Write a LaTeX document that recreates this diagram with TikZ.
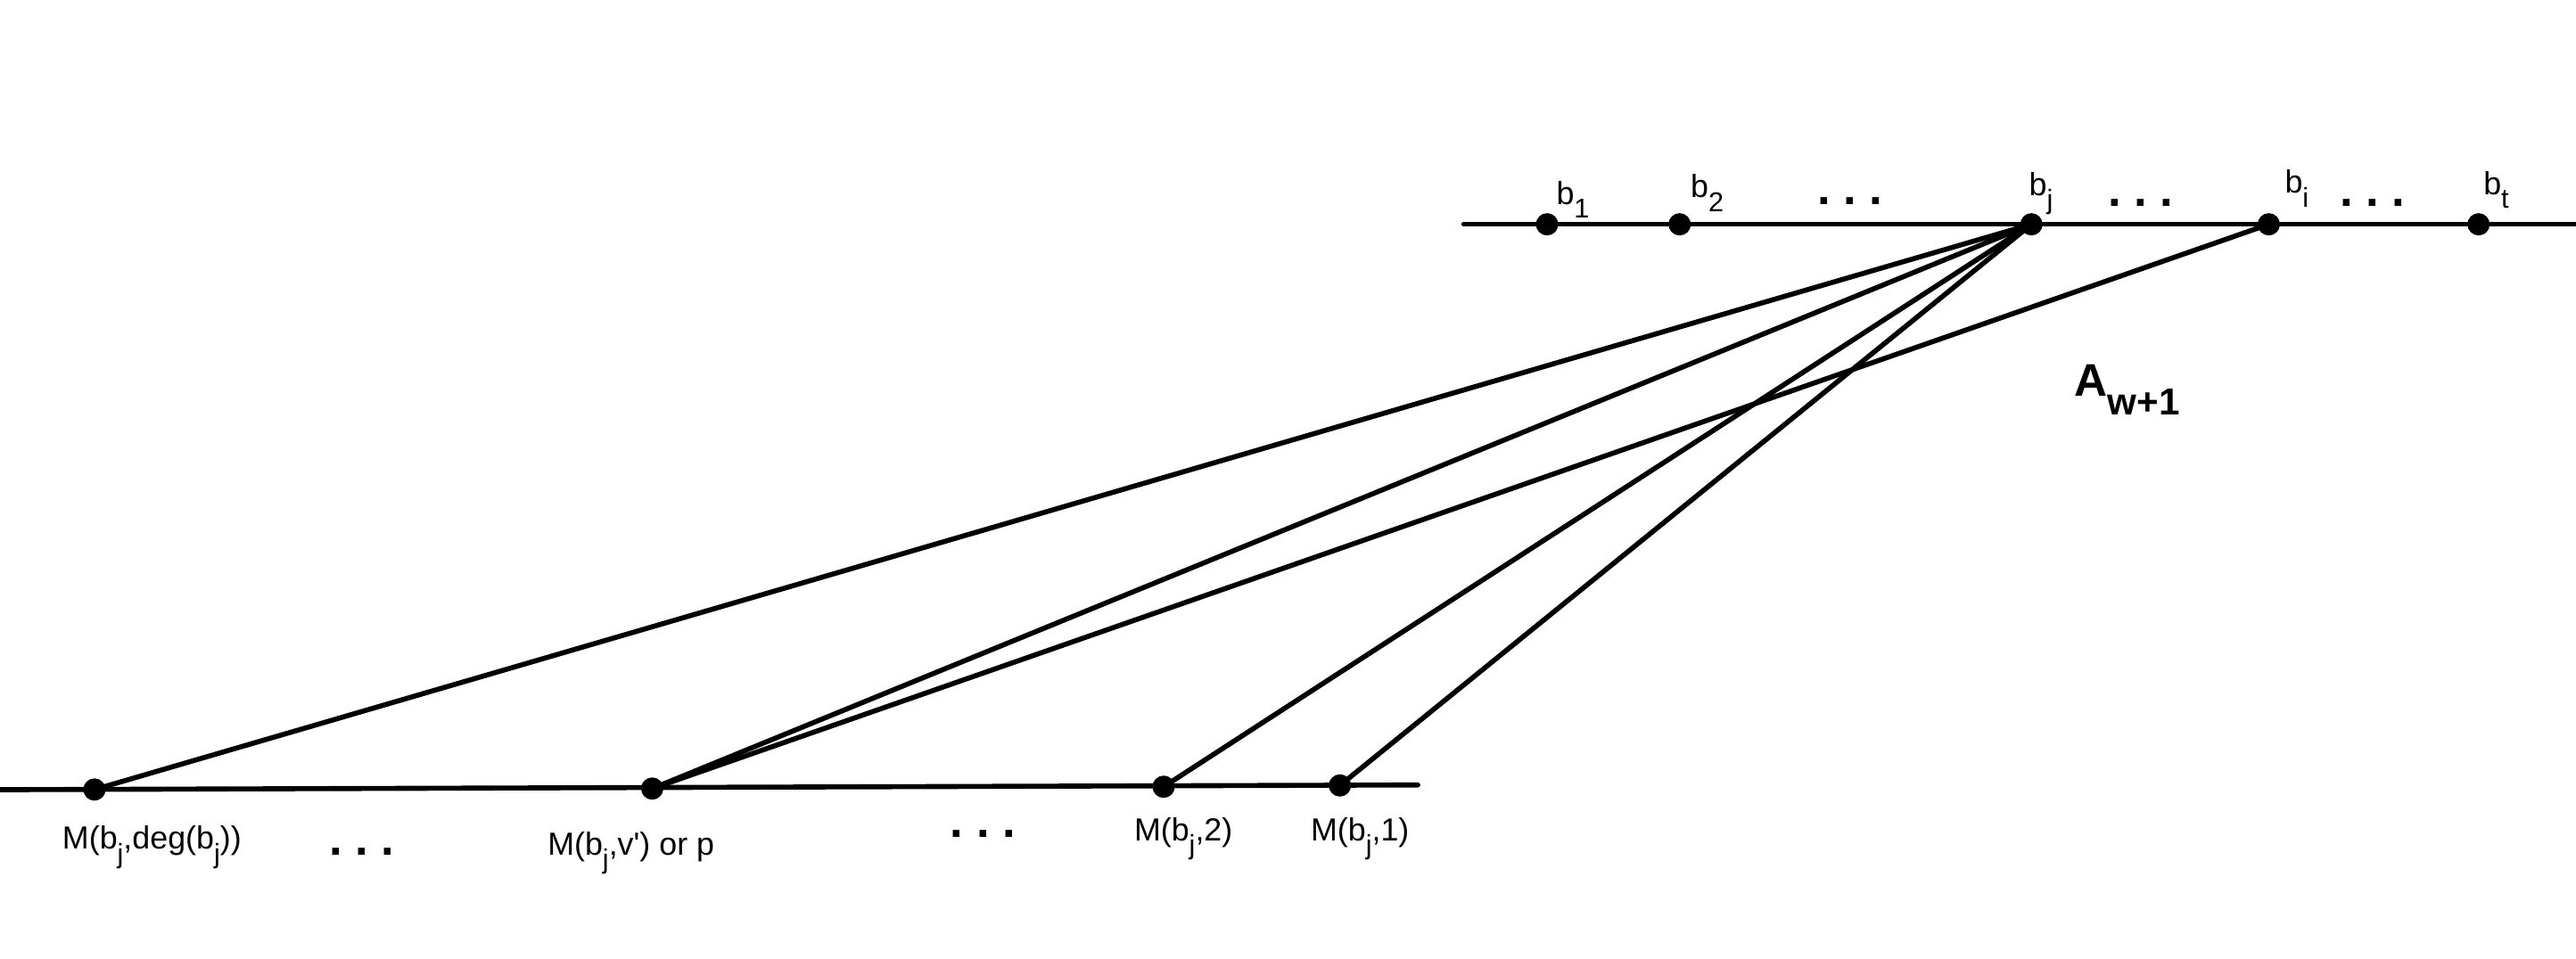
\documentclass[tikz,border=0pt]{standalone}
\usepackage{fontspec}
\setmainfont{Liberation Sans}
\newcommand\lsub[1]{\raisebox{-4.4pt}{\fontsize{8.7}{10}\selectfont #1}}
\newcommand\Asub[1]{\raisebox{-6pt}{\fontsize{12}{14}\selectfont\bfseries #1}}
\newcommand\tdots{{\fontsize{15}{18}\selectfont\bfseries .\hspace{4.1pt}.\hspace{4.1pt}.}}
\begin{document}
\begin{tikzpicture}[x=0.018425cm,y=-0.018425cm,
  vtx/.style={circle,fill=black,inner sep=0pt,minimum size=0.25cm},
  lbl/.style={inner sep=0pt,anchor=base west,font=\fontsize{10.2}{12}\selectfont},
  dts/.style={inner sep=0pt,anchor=base},
  ln/.style={line width=1.6pt,line cap=round}]
\useasboundingbox (0,0) rectangle (1568,584);
\fill[white] (0,0) rectangle (1568,584);
% top row
\coordinate (tl) at (891,136.6);
\coordinate (tr) at (1568,136.6);
\draw[ln] (tl) -- (tr);
\node[vtx] (b1) at (941.7,136.6) {};
\node[vtx] (b2) at (1022.4,136.6) {};
\node[vtx] (bj) at (1236.5,136.6) {};
\node[vtx] (bi) at (1381,136.6) {};
\node[vtx] (bt) at (1508.7,136.6) {};
% bottom row
\coordinate (bl) at (0,480.9);
\coordinate (br) at (863,478);
\draw[ln] (bl) -- (br);
\node[vtx] (Mdeg) at (57.5,480.8) {};
\node[vtx] (Mv) at (397,480.2) {};
\node[vtx] (M2) at (708.3,479.1) {};
\node[vtx] (M1) at (815.6,478.3) {};
% edges
\draw[ln] (bj.center) -- (Mdeg.center);
\draw[ln] (bj.center) -- (Mv.center);
\draw[ln] (bi.center) -- (Mv.center);
\draw[ln] (bj.center) -- (M2.center);
\draw[ln] (bj.center) -- (M1.center);
% top labels
\node[lbl] (lb1) at (947,124.5) {b\lsub{1}};
\node[lbl] (lb2) at (1028.7,120.3) {b\lsub{2}};
\node[lbl] (lbj) at (1234.7,119) {b\lsub{j}};
\node[lbl] (lbi) at (1390.4,117.6) {b\lsub{i}};
\node[lbl] (lbt) at (1511.3,118.5) {b\lsub{t}};
\node[dts] (d1) at (1126.3,124.8) {\tdots};
\node[dts] (d2) at (1303,125.7) {\tdots};
\node[dts] (d3) at (1444,125.7) {\tdots};
\node[lbl,font=\fontsize{14.6}{17}\selectfont\bfseries] (lA) at (1262.4,241.2) {A\Asub{w+1}};
% bottom labels
\node[lbl] (lMdeg) at (37.6,517) {M(b\lsub{j},deg(b\lsub{j}))};
\node[lbl] (lMv) at (333,520.5) {M(b\lsub{j},v\textquotesingle) or p};
\node[lbl] (lM2) at (690,512) {M(b\lsub{j},2)};
\node[lbl] (lM1) at (797.5,512) {M(b\lsub{j},1)};
\node[dts] (d4) at (220.4,521) {\tdots};
\node[dts] (d5) at (598.3,509.7) {\tdots};
\end{tikzpicture}
\end{document}
